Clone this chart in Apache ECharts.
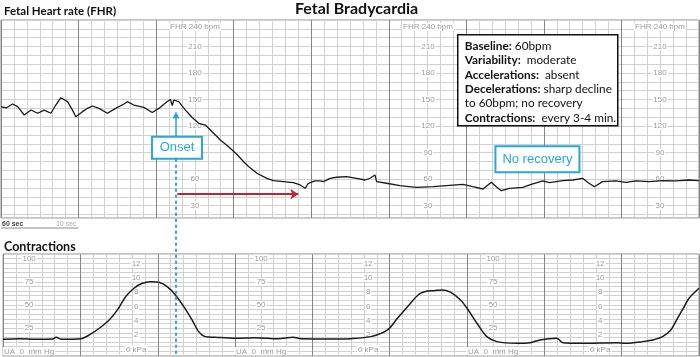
<!DOCTYPE html>
<html><head><meta charset="utf-8">
<script src="https://cdn.jsdelivr.net/npm/echarts@6/dist/echarts.min.js"></script>
<style>html,body{margin:0;padding:0;background:#fff}#c{width:700px;height:357px}</style>
</head><body><div id="c"></div>
<script>
// ---- Data ----
// Fetal heart rate trace: time (s) and beats per minute
const fhrTime = [0,3.9,9,12.9,18,23.2,28.3,33.4,38.6,42.4,46.3,51.5,55.3,57.9,63,66.9,70.7,75.8,82.3,88.7,95.1,97.7,102.8,110.5,117,122.1,128.6,131.1,132.5,133.7,137.5,142.7,147.9,153,158.1,163.3,169.7,176.1,182.6,187.7,191.5,198,205.7,210.8,218.5,226.2,231.4,235.3,237.8,243,246.9,248.1,249.4,254.6,259.7,267.4,275.1,281.6,285.4,289.3,290.6,298.3,308.6,321.4,334.3,347.1,357.4,365.1,372.9,379.3,383.2,387,393.4,403.7,410.2,419.1,424.3,434.5,442.3,450,453.8,459,465.4,475.7,483.4,491.1,501.4,511.7,522,532.3,540];
const fhrBpm = [142,140.5,145,142,132.5,138.2,134.5,138,134.5,143.8,152.1,147.6,138,130.6,136.3,140.1,142.7,140,134.5,140,145,147.6,143.8,141.2,135.4,140,147.8,150,143.3,149.5,147.6,138,129.7,123.1,121.2,113.6,104.2,96.7,87.8,79.7,74.3,66.6,60.9,58.2,57.1,56,53.4,49.6,55.3,57.9,57.9,59.8,57.1,60.9,62.1,62.7,60.9,59,60.9,64.7,57.1,55.3,52.6,50.7,51.4,53,54.1,51.4,48.8,56.4,51.4,46.9,49.6,50.7,54.1,57.9,56,58.2,59,60.9,56.4,51.4,57.1,57.9,56.4,57.9,57.1,58.2,57.9,59,58.2];
// Uterine activity trace: time (s) and pressure (mm Hg)
const uaTime = [0,12.9,25.7,38.6,41.1,45,60.4,66.9,74.6,82.3,88.7,95.1,101.6,108,114.4,120.9,127.3,133.7,140.2,146.6,151.7,156.8,164.5,180,195.4,213.4,225,231.4,257.1,270,285.4,298.3,306,315,322.7,329.2,334.3,340.7,347.1,354.9,360,367.7,375.4,383.2,398.6,408.9,416.6,429.4,434.5,450,475.7,483.4,496.3,504,511.7,518.1,523.3,527.1,532.3,540];
const uaMmHg = [13.1,13.7,13.1,13.4,15.2,13.1,13.7,17.7,24.9,33.9,44.7,59,68.1,73.5,75.2,74.5,69.8,60.8,48.2,33.9,21.3,15.9,15.2,14.1,14.8,13.7,15.2,13.7,13.4,13.7,15.9,23.1,35.7,50.1,61.6,65.2,65.5,66.2,63.8,55.4,46.5,30.3,15.9,10.5,8.7,9.4,12.3,14.1,9.4,8.7,9.4,8.7,10.5,12.3,15.9,23.1,35.7,44.7,57.3,68.1];
// Tick labels
const fhrTicks = [30,60,90,120,150,180,210,240];
const mmHgTicks = [0,25,50,75,100];
const kPaTicks = [0,2,4,6,8,10,12];
// Annotation values
const onsetTime = 135.4, onsetBoxBpm = 95.6, onsetTipBpm = 136.5;
const arrowBpm = 43, arrowEndTime = 230;
const noRecTime = 415, noRecBpm = 82.6;

const CY = '#2aa7d6';
const LBL = {fontSize: 8, color: '#9a9a9a', fontFamily: 'Liberation Sans'};

function xAx(gi){
  return {gridIndex: gi, type:'value', min:0, max:540, interval:60,
    axisLabel:{show:false}, axisLine:{show:false}, axisTick:{show:false},
    splitLine:{show:true, lineStyle:{color:'#858585', width:1}},
    minorTick:{show:false, splitNumber:6},
    minorSplitLine:{show:true, lineStyle:{color:'#d0d0d0', width:1}}};
}
function labelAx(gi, min, max, x, values, fmt){
  return {gridIndex: gi, type:'value', min:min, max:max, position:'left', offset: 1 - x,
    axisLine:{show:false}, axisTick:{show:false}, splitLine:{show:false}, z: 1,
    axisLabel:{show:true, customValues: values, margin:0, align:'center',
      formatter: function(v){ const r = Math.round(v*100)/100; return values.indexOf(r) >= 0 ? fmt(r) : ''; },
      rich:{
        n:{...LBL, backgroundColor:'#fff', padding:[0,1]},
        sp:{fontSize:8, lineHeight:14},
        t:{...LBL, backgroundColor:'#fff', padding:[0,1], lineHeight:10}
      }}};
}
const fhrFmt = v => v === 240 ? '{sp| }\n{t|FHR 240 bpm}' : '{n|' + v + '}';
const mmFmt = v => v === 0 ? '{n|UA  0  mm Hg}' : '{n|' + v + '}';
const kpFmt = v => v === 0 ? '{n|0 kPa}' : '{n|' + v + '}';

const FMIN = 16, FMAX = 240, UMIN = -5, UMAX = 105, KMIN = -0.93, KMAX = 13.3;

const chart = echarts.init(document.getElementById('c'), null, {renderer:'canvas'});
const option = {
  animation:false,
  backgroundColor:'#fff',
  title:[
    {text:'Fetal Bradycardia', left:295, top:1, padding:0, textStyle:{fontSize:16, fontWeight:'bold', fontFamily:'Lato', color:'#111'}},
    {text:'Fetal Heart rate (FHR)', left:4, top:5, padding:0, textStyle:{fontSize:11.5, fontWeight:'bold', fontFamily:'Lato', color:'#111'}},
    {text:'Contractions', left:4, top:240, padding:0, textStyle:{fontSize:12.5, fontWeight:'bold', fontFamily:'Lato', color:'#111'}}
  ],
  grid:[
    {left:1, right:1, top:20, height:198, show:true, borderColor:'#8a8a8a', borderWidth:1, backgroundColor:'#fff'},
    {left:1, right:1, top:254, height:102, show:true, borderColor:'#8a8a8a', borderWidth:1, backgroundColor:'#fff'}
  ],
  xAxis:[xAx(0), xAx(1)],
  yAxis:[
    {gridIndex:0, type:'value', min:FMIN, max:FMAX, splitNumber:22,
      axisLabel:{show:false}, axisLine:{show:false}, axisTick:{show:false},
      splitLine:{show:true, lineStyle:{color:'#d0d0d0'}}},
    labelAx(0, FMIN, FMAX, 195, fhrTicks, fhrFmt),
    labelAx(0, FMIN, FMAX, 428, fhrTicks, fhrFmt),
    labelAx(0, FMIN, FMAX, 660, fhrTicks, fhrFmt),
    {gridIndex:1, type:'value', min:UMIN, max:UMAX, interval:5,
      axisLabel:{show:false}, axisLine:{show:false}, axisTick:{show:false},
      splitLine:{show:true, lineStyle:{color:'#d0d0d0'}}},
    labelAx(1, UMIN, UMAX, 27, mmHgTicks, mmFmt),
    labelAx(1, UMIN, UMAX, 259, mmHgTicks, mmFmt),
    labelAx(1, UMIN, UMAX, 491, mmHgTicks, mmFmt),
    labelAx(1, KMIN, KMAX, 134, kPaTicks, kpFmt),
    labelAx(1, KMIN, KMAX, 366, kPaTicks, kpFmt),
    labelAx(1, KMIN, KMAX, 598, kPaTicks, kpFmt)
  ],
  series:[
    {type:'line', xAxisIndex:0, yAxisIndex:0, showSymbol:false, symbol:'none', z:3,
      lineStyle:{color:'#1a1a1a', width:1.3},
      data: fhrTime.map((t,i)=>[t, fhrBpm[i]]),
      markLine:{silent:true, symbol:['none','arrow'], symbolSize:8, label:{show:false},
        lineStyle:{color:'#c0242f', width:2, type:'solid'},
        data:[[{coord:[onsetTime+1, arrowBpm]},{coord:[arrowEndTime, arrowBpm]}]]}},
    {type:'line', xAxisIndex:1, yAxisIndex:4, showSymbol:false, symbol:'none', smooth:0.3, z:3,
      lineStyle:{color:'#1a1a1a', width:1.5},
      data: uaTime.map((t,i)=>[t, uaMmHg[i]])}
  ]
};
chart.setOption(option);

// ---- annotations positioned through the chart's scales ----
const P = (t,v) => chart.convertToPixel({xAxisIndex:0, yAxisIndex:0}, [t,v]);
const ob = P(onsetTime, onsetBoxBpm);
const tip = P(onsetTime, onsetTipBpm);
const nr = P(noRecTime, noRecBpm);
const sx0 = chart.convertToPixel({xAxisIndex:0, yAxisIndex:0}, [0, FMIN]);
const sx1 = chart.convertToPixel({xAxisIndex:0, yAxisIndex:0}, [60, FMIN]);
const oW = 50, oH = 22, nW = 84, nH = 26;
chart.setOption({graphic:[
  // onset dashed line
  {type:'line', z:100, shape:{x1:ob[0], y1:ob[1]+oH/2, x2:ob[0], y2:357}, style:{stroke:CY, lineWidth:2, lineDash:[3,3]}},
  // onset arrow
  {type:'line', z:100, shape:{x1:ob[0], y1:ob[1]-oH/2, x2:ob[0], y2:tip[1]+4}, style:{stroke:CY, lineWidth:1.5}},
  {type:'polygon', z:100, shape:{points:[[ob[0],tip[1]],[ob[0]-3.5,tip[1]+7],[ob[0]+3.5,tip[1]+7]]}, style:{fill:CY}},
  // onset box
  {type:'rect', z:100, shape:{x:ob[0]-oW/2+1, y:ob[1]-oH/2, width:oW, height:oH}, style:{fill:'#fff', stroke:CY, lineWidth:2}},
  {type:'text', z:101, x:ob[0]+1, y:ob[1], style:{text:'Onset', fill:CY, fontSize:13, fontFamily:'Liberation Sans', align:'center', verticalAlign:'middle'}},
  // no recovery box
  {type:'rect', z:100, shape:{x:nr[0]-nW/2, y:nr[1]-nH/2, width:nW, height:nH}, style:{fill:'#fff', stroke:CY, lineWidth:2}},
  {type:'text', z:101, x:nr[0], y:nr[1], style:{text:'No recovery', fill:CY, fontSize:13, fontFamily:'Liberation Sans', align:'center', verticalAlign:'middle'}},
  // time scale legend
  {type:'line', z:100, shape:{x1:sx0[0], y1:228, x2:sx1[0], y2:228}, style:{stroke:'#8a8a8a', lineWidth:1}},
  {type:'text', z:100, x:2, y:224, style:{text:'60 sec', fill:'#444', fontSize:7, fontWeight:'bold', fontFamily:'Liberation Sans', verticalAlign:'middle'}},
  {type:'text', z:100, x:sx1[0]-2, y:224, style:{text:'10 sec', fill:'#aaa', fontSize:7, fontFamily:'Liberation Sans', align:'right', verticalAlign:'middle'}},
  // info box
  {type:'group', left:457, top:34, z:100, children:[
    {type:'rect', z:100, shape:{x:0, y:0, width:160, height:91}, style:{fill:'#fff', stroke:'#111', lineWidth:1.5}},
    {type:'text', z:101, x:7, y:4, style:{
      text:['{b|Baseline:} 60bpm','{b|Variability:}  moderate','{b|Accelerations:}  absent','{b|Decelerations:} sharp decline','to 60bpm; no recovery','{b|Contractions:}  every 3-4 min.'].join('\n'),
      fill:'#111', fontSize:11.8, fontFamily:'Lato', lineHeight:14.4,
      rich:{b:{fontWeight:'bold', fontSize:11.8, fontFamily:'Lato', lineHeight:14.4, fill:'#111'}}}}
  ]}
]});
</script></body></html>
